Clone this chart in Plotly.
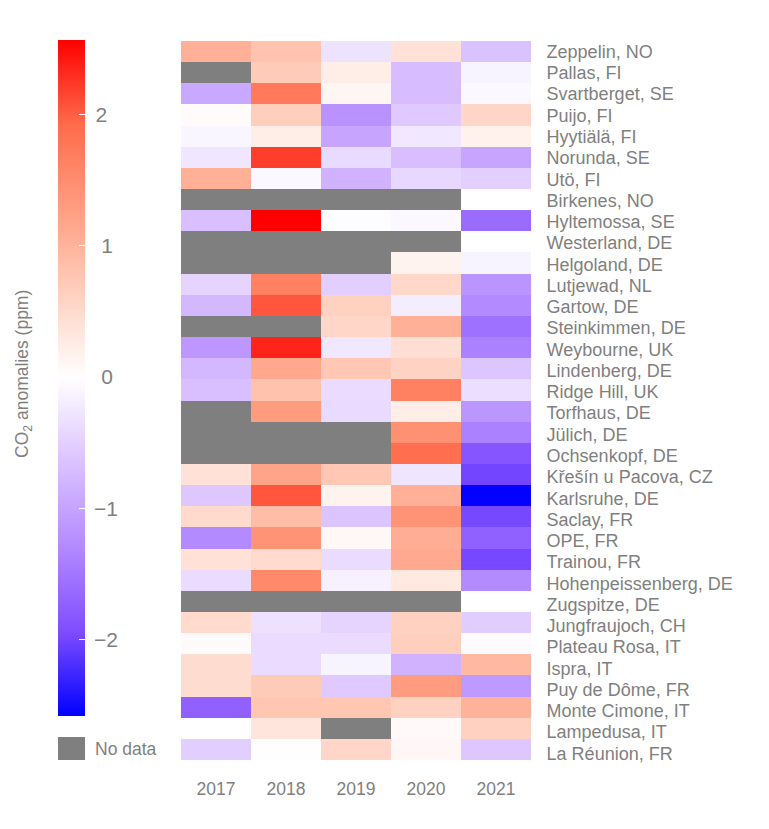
import numpy as np
import plotly.graph_objects as go

years = ["2017", "2018", "2019", "2020", "2021"]
stations = ["Zeppelin, NO", "Pallas, FI", "Svartberget, SE", "Puijo, FI", "Hyytiälä, FI", "Norunda, SE",
            "Utö, FI", "Birkenes, NO", "Hyltemossa, SE", "Westerland, DE", "Helgoland, DE", "Lutjewad, NL",
            "Gartow, DE", "Steinkimmen, DE", "Weybourne, UK", "Lindenberg, DE", "Ridge Hill, UK", "Torfhaus, DE",
            "Jülich, DE", "Ochsenkopf, DE", "Křešín u Pacova, CZ", "Karlsruhe, DE", "Saclay, FR", "OPE, FR",
            "Trainou, FR", "Hohenpeissenberg, DE", "Zugspitze, DE", "Jungfraujoch, CH", "Plateau Rosa, IT",
            "Ispra, IT", "Puy de Dôme, FR", "Monte Cimone, IT", "Lampedusa, IT", "La Réunion, FR"]
N = None
anom_2017 = [1.05, N, -.94, .05, -.1, -.27, 1.05, N, -.69, N, N, -.46, -.76, N, -1.14, -.78, -.69, N, N, N,
             .4, -.6, .5, -1.29, .4, -.38, N, .5, .05, .47, .47, -1.73, 0.0, -.51]
anom_2018 = [.8, .7, 1.75, .65, .24, 2.2, -.07, N, 2.57, N, N, 1.65, 2.05, N, 2.35, 1.15, .82, 1.3, N, N,
             1.2, 2.05, .88, 1.42, .5, 1.55, N, -.32, -.37, -.37, .7, .77, .35, .01]
anom_2019 = [-.3, .24, .12, -1.2, -.98, -.4, -.83, N, -.03, N, N, -.51, .62, .55, -.25, .75, -.38, -.4, N, N,
             .75, .16, -.63, .09, -.37, -.15, N, -.46, -.37, -.12, -.58, .77, N, .55]
anom_2020 = [.4, -.72, -.72, -.58, -.25, -.7, -.42, N, -.08, N, .16, .53, -.2, 1.05, .43, .6, 1.65, .24, 1.45, 1.9,
             -.28, 1.05, 1.42, 1.08, 1.12, .3, N, .62, .65, -.83, 1.32, .62, .06, .1]
anom_2021 = [-.66, -.12, -.08, .55, .18, -.99, -.5, 0.0, -1.62, 0.0, -.12, -1.17, -1.29, -1.55, -1.39, -.62, -.35, -1.16, -1.39, -1.85,
             -2.0, -2.57, -1.98, -1.73, -1.98, -1.28, 0.0, -.53, -.04, .95, -1.12, 1.02, .62, -.6]
bar_ticks = [-2, -1, 0, 1, 2]
bar_labels = ["\u2009\u22122", "\u2009\u22121", "\u00a0\u00a00", "\u00a0\u00a01", "\u00a02"]

z = np.array([anom_2017, anom_2018, anom_2019, anom_2020, anom_2021], dtype=float).T
mask = np.where(np.isnan(z), 1.0, np.nan)

W, H = 769, 829
L, R, T, B = 181, 531, 41, 764
CELL_BOTTOM = 760
GREY = "#7f7f7f"
FONT = "Liberation Sans, Arial, sans-serif"
px = lambda v: (v - L) / (R - L)
py = lambda v: (B - v) / (B - T)

colorscale = [[0, "#0000FF"], [.125, "#7F4DFF"], [.25, "#B38AFF"], [.375, "#DBC2FF"], [.501, "#FFFFFF"],
              [.625, "#FFD0BF"], [.75, "#FF9E81"], [.875, "#FF6C4C"], [1, "#FF0000"]]

fig = go.Figure()
fig.add_trace(go.Heatmap(x=years, y=stations, z=mask, zmin=0, zmax=1, showscale=False,
                         colorscale=[[0, "#7f7f7f"], [1, "#7f7f7f"]], hoverinfo="skip"))
fig.add_trace(go.Heatmap(
    x=years, y=stations, z=z, zmin=-2.58, zmax=2.565, colorscale=colorscale,
    colorbar=dict(lenmode="pixels", len=676, thicknessmode="pixels", thickness=27,
                  x=px(58), xanchor="left", y=py(40), yanchor="top", xpad=0, ypad=0,
                  outlinewidth=0, borderwidth=0, ticks="inside", ticklen=6, tickcolor="white", tickwidth=1,
                  tickmode="array", tickvals=bar_ticks, ticktext=bar_labels,
                  tickfont=dict(size=21, color=GREY, family=FONT))))
# invisible trace that carries the station labels on their own axis
fig.add_trace(go.Scatter(x=[years[0]] * len(stations), y=stations, yaxis="y2", mode="markers",
                         marker=dict(opacity=0), showlegend=False, hoverinfo="skip"))

fig.add_shape(type="rect", xref="paper", yref="paper", x0=px(58), x1=px(85), y0=py(760), y1=py(737),
              fillcolor="#7f7f7f", line_width=0)
fig.add_annotation(xref="paper", yref="paper", x=px(93), y=py(749), text="No data", showarrow=False,
                   xanchor="left", yanchor="middle", font=dict(size=17.5, color=GREY, family=FONT))
fig.add_annotation(xref="paper", yref="paper", x=px(23), y=py(374), text="CO<sub>2</sub> anomalies (ppm)",
                   showarrow=False, textangle=-90, xanchor="center", yanchor="middle",
                   font=dict(size=17.5, color=GREY, family=FONT))

n = len(stations)
fig.update_layout(
    width=W, height=H, autosize=False, paper_bgcolor="white", plot_bgcolor="rgba(0,0,0,0)",
    margin=dict(l=L, r=W - R, t=T, b=H - B, pad=0), font=dict(family=FONT), showlegend=False,
    xaxis=dict(type="category", categoryorder="array", categoryarray=years, range=[-0.5, len(years) - 0.5],
               side="bottom", ticks="outside", ticklen=13, tickcolor="rgba(0,0,0,0)", showgrid=False,
               zeroline=False, showline=False, tickfont=dict(size=17.5, color=GREY, family=FONT)),
    yaxis=dict(type="category", categoryorder="array", categoryarray=stations, range=[n - 0.5, -0.5],
               domain=[py(CELL_BOTTOM), 1], showticklabels=False, ticks="", showgrid=False, zeroline=False,
               showline=False),
    yaxis2=dict(type="category", categoryorder="array", categoryarray=stations, range=[n - 0.5, -0.5],
                domain=[0, 1], anchor="x", side="right", ticks="outside", ticklen=11, tickcolor="rgba(0,0,0,0)",
                showgrid=False, zeroline=False, showline=False, dtick=1,
                tickfont=dict(size=18, color=GREY, family=FONT)),
)
fig.write_html("out.html", post_script="document.body.style.margin='0';",
               config=dict(displayModeBar=False))
